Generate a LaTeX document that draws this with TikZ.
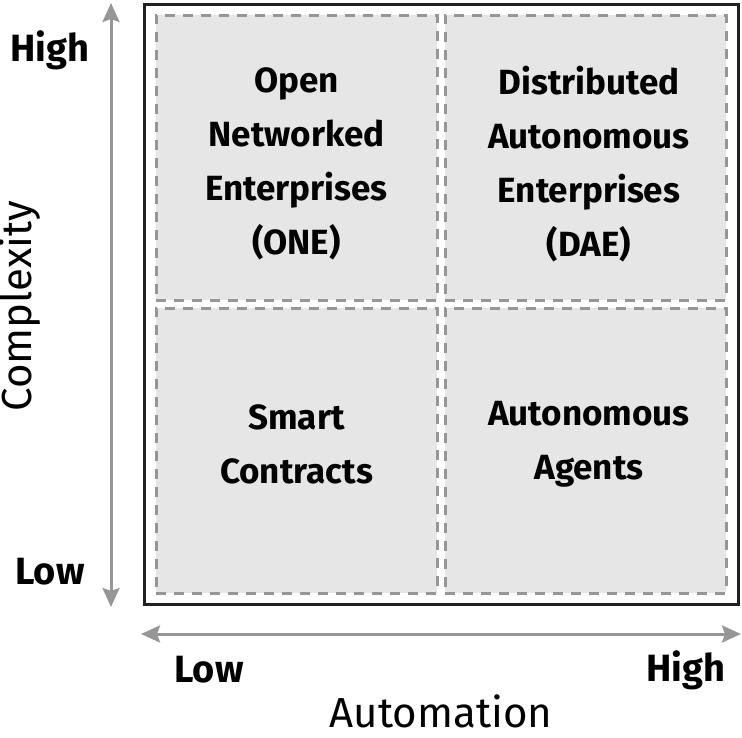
\documentclass[tikz,border=0pt]{standalone}
\usepackage{fontspec}
\setmainfont{Fira Sans}
\usepackage{tikz}
\usetikzlibrary{positioning,arrows.meta}
\definecolor{quadfill}{HTML}{E6E6E6}
\definecolor{dashgray}{HTML}{969696}
\definecolor{framecol}{HTML}{231F20}

\begin{document}
\begin{tikzpicture}[
  x=1pt, y=-1pt,
  quad/.style={
    rectangle, draw=dashgray, fill=quadfill,
    line width=3pt, dash pattern=on 10pt off 8pt,
    minimum width=281pt, minimum height=285pt,
    inner sep=0pt
  },
  txt/.style={align=center, inner sep=0pt,
    font=\fontsize{35}{54}\selectfont\bfseries},
  lvl/.style={font=\fontsize{38}{44}\selectfont\bfseries},
  axis/.style={font=\fontsize{42}{50}\selectfont},
  arr/.style={{Stealth[length=19pt,width=17pt,inset=3pt]}-{Stealth[length=19pt,width=17pt,inset=3pt]},
    line width=3pt, draw=dashgray}
]
\useasboundingbox (0,0) rectangle (742,737);

% quadrants
\node[quad] (one)   at (296.5,157.5) {};
\node[quad] (dae)   at (585.5,157.5) {};
\node[quad] (smart) at (296.5,450.5) {};
\node[quad] (agent) at (585.5,450.5) {};

\node[txt] (onetxt)   at (296.5,164) {Open\\Networked\\Enterprises\\(ONE)};
\node[txt] (daetxt)   at (589,164) {Distributed\\Autonomous\\Enterprises\\(DAE)};
\node[txt] (smarttxt) at (296.5,444) {Smart\\Contracts};
\node[txt] (agenttxt) at (589,444) {Autonomous\\Agents};

% frame
\draw[line width=3pt, draw=framecol] (144.5,4.5) rectangle (738.5,604.5);

% axes
\coordinate (ytop) at (111,3);
\coordinate (ybot) at (111,607);
\coordinate (xleft) at (141,634);
\coordinate (xright) at (741,634);
\draw[arr] (ybot) -- (ytop);
\draw[arr] (xleft) -- (xright);

% axis labels
\node[lvl] (yhigh) at (50,50) {High};
\node[lvl] (ylow)  at (50,572) {Low};
\node[lvl] (xlow)  at (209,670) {Low};
\node[lvl] (xhigh) at (686,670) {High};
\node[axis, rotate=90] (ylab) at (20,306) {Complexity};
\node[axis] (xlab) at (441,711) {Automation};

\end{tikzpicture}
\end{document}
